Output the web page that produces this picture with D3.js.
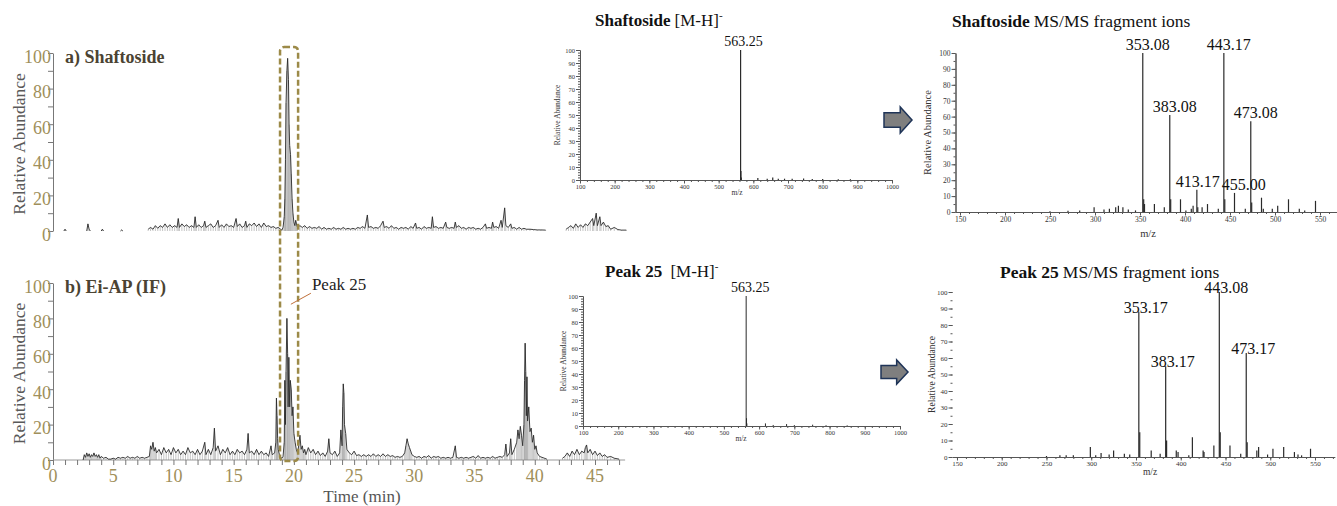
<!DOCTYPE html>
<html>
<head>
<meta charset="utf-8">
<script src="https://cdn.jsdelivr.net/npm/d3@7"></script>
<style>
  body { margin: 0; background: #fff; }
  svg text { font-family: "Liberation Serif", "Times New Roman", serif; }
</style>
</head>
<body>
<svg id="fig" width="1337" height="506"></svg>
<script>
// chromatogram a) Shaftoside standard: [time (min), relative abundance %], null = gap
const chromA = [
  [0.9,0],[1.0,1],[1.1,0],[1.2,null],
  [2.8,0],[2.9,4],[3.0,1],[3.1,0],[3.2,null],
  [4.0,0],[4.1,1],[4.2,0],[4.3,null],
  [5.6,0],[5.7,0.6],[5.8,0],[5.9,null],
  [7.9,1],[8.1,2],[8.3,1],[8.5,3],[8.7,1.5],[8.9,3],[9.1,2],[9.3,4],[9.5,2],[9.7,3.5],[9.9,2],[10.1,3],[10.3,2],[10.4,7],[10.5,2],
  [10.7,4],[10.9,2.5],[11.1,3.5],[11.3,2],[11.5,3],[11.7,2],[11.8,8],[11.9,2],[12.1,3.5],[12.3,2],[12.5,3],[12.6,5.5],[12.7,2],
  [12.9,3],[13.1,4],[13.3,2],[13.5,3],[13.7,6],[13.8,2],[14.0,3.5],[14.2,2],[14.4,4],[14.6,2.5],[14.8,3],[15.0,2],[15.2,7],[15.3,2.5],
  [15.5,4],[15.7,2],[15.9,3],[16.0,5.5],[16.1,2],[16.3,4],[16.5,3],[16.7,4.5],[16.9,2.5],[17.1,4],[17.3,2],[17.5,4.5],[17.7,2.5],
  [17.9,3],[18.1,2],[18.3,2.5],[18.5,1.5],[18.7,2],[18.9,1],[19.0,0.5],
  [19.1,2],[19.2,8],[19.25,18],[19.3,40],[19.35,72],[19.42,90],[19.48,97],[19.55,85],[19.6,60],[19.65,48],[19.72,43],[19.78,32],
  [19.85,18],[19.92,10],[20.0,5],[20.08,3],[20.15,6],[20.22,4],[20.3,2],
  [20.5,3],[20.7,2],[20.9,3],[21.1,1.5],[21.3,2.5],[21.5,1.5],[21.7,2],[21.9,1.5],[22.1,2.5],[22.3,1],[22.5,2],[22.7,1],[22.9,1.5],
  [23.1,1],[23.3,2],[23.5,1],[23.7,1.5],[23.9,1],[24.1,2],[24.3,1],[24.5,1.5],[24.7,1],[24.9,1.5],[25.1,1],[25.3,2],[25.5,1.5],
  [25.7,2.5],[25.9,1.5],[26.1,9],[26.2,2],[26.4,2.5],[26.6,1.5],[26.8,2],[27.0,1.5],[27.2,3],[27.4,5.5],[27.5,2],[27.7,2.5],[27.9,1.5],
  [28.1,3],[28.3,1.5],[28.5,2],[28.7,1],[28.9,2],[29.1,1.5],[29.3,2],[29.5,1],[29.7,2.5],[29.9,1.5],[30.1,4.5],[30.2,1.5],[30.4,2],
  [30.6,1],[30.8,2.5],[31.0,1.5],[31.2,2],[31.4,1.5],[31.5,8],[31.6,2],[31.8,2.5],[32.0,1.5],[32.2,2],[32.4,1.5],[32.6,5],[32.7,2],
  [32.9,1.5],[33.1,2],[33.3,1.5],[33.4,5],[33.5,2],[33.7,3],[33.9,1.5],[34.1,2],[34.3,1],[34.5,2],[34.7,1.5],[34.9,2],[35.1,1],
  [35.3,1.5],[35.5,1],[35.7,2],[35.9,4],[36.0,1.5],[36.2,2],[36.4,1.5],[36.5,5],[36.6,2],[36.8,2.5],[37.0,1.5],[37.2,6],[37.3,2],
  [37.5,13],[37.6,3],[37.8,2],[38.0,4],[38.1,1.5],[38.3,2],[38.5,1],[38.7,2],[38.9,1],[39.1,1.5],[39.3,1],[39.6,1],[39.9,0.8],
  [40.2,0.6],[40.5,0.6],[40.9,0.5],[41.0,null],
  [42.6,1],[42.8,2],[43.0,3],[43.2,1.5],[43.4,4],[43.6,2],[43.8,3.5],[44.0,2],[44.2,4],[44.4,3],[44.6,5],[44.8,7],[44.9,3],
  [45.1,10],[45.2,3],[45.4,8],[45.5,3],[45.7,5],[45.9,2.5],[46.1,3],[46.3,1],[46.6,2],[46.9,0.8],[47.2,0.5],[47.6,0.5]
];

// chromatogram b) Ei-AP (IF)
const chromB = [
  [2.5,0],[2.6,3],[2.7,1.5],[2.8,4],[2.9,2],[3.0,3.5],[3.1,1.5],[3.2,3],[3.3,2],[3.4,4],[3.5,2],[3.6,3],[3.7,1.5],[3.8,3],[3.9,1],
  [4.0,2],[4.2,1],[4.4,1.5],[4.6,0.5],[4.8,0.5],[5.0,1],[5.2,0.5],[5.4,1.5],[5.6,1],[5.8,1.5],[6.0,1],[6.2,2],[6.4,1],[6.6,1.5],
  [6.8,1],[7.0,2],[7.2,1],[7.4,1.5],[7.6,1],[7.8,1.5],[8.0,2],[8.1,8],[8.2,6],[8.3,10],[8.4,5],[8.5,7],[8.6,4],[8.8,6],[9.0,3],
  [9.2,7],[9.4,4],[9.6,6],[9.8,3],[10.0,7],[10.2,4],[10.4,6],[10.6,3],[10.8,5],[11.0,3],[11.2,7],[11.4,4],[11.6,5],[11.8,3],[12.0,6],
  [12.2,3],[12.4,5],[12.6,10],[12.7,3],[12.9,6],[13.1,3],[13.3,7],[13.4,18],[13.5,5],[13.7,8],[13.9,3],[14.1,6],[14.3,4],[14.5,7],
  [14.7,3],[14.9,5],[15.1,3],[15.3,6],[15.5,4],[15.7,5],[15.9,3],[16.1,6],[16.2,15],[16.3,4],[16.5,5],[16.7,3],[16.9,6],[17.1,3],
  [17.3,5],[17.5,3],[17.7,4],[17.9,2],[18.1,8],[18.2,3],[18.4,4],[18.5,10],[18.55,35],[18.6,25],[18.65,12],[18.7,6],[18.8,3],
  [18.9,1.5],[19.0,1],[19.1,2],[19.2,10],[19.25,45],[19.3,20],[19.35,50],[19.42,80],[19.48,60],[19.52,30],[19.58,58],[19.65,30],
  [19.7,45],[19.78,40],[19.85,25],[19.92,30],[20.0,15],[20.1,10],[20.2,6],[20.3,4],[20.4,8],[20.5,14],[20.6,6],[20.7,8],[20.8,4],
  [20.9,6],[21.0,3],[21.2,7],[21.4,4],[21.6,6],[21.8,3],[22.0,5],[22.2,2.5],[22.4,4],[22.6,2],[22.8,5],[22.9,12],[23.0,4],[23.2,3],
  [23.4,5],[23.6,2],[23.8,4],[23.9,17],[24.0,8],[24.05,30],[24.1,43],[24.15,38],[24.2,20],[24.3,15],[24.4,6],[24.6,4],[24.8,3],
  [25.0,5],[25.2,2.5],[25.4,3],[25.6,2],[25.8,3],[26.0,2],[26.2,3],[26.4,2],[26.6,3.5],[26.8,2],[27.0,3],[27.2,2],[27.4,3.5],
  [27.6,2],[27.8,3],[28.0,2],[28.2,2.5],[28.4,1.5],[28.6,2],[28.8,1.5],[29.0,2],[29.2,4],[29.3,8],[29.4,12],[29.5,9],[29.6,7],
  [29.7,5],[29.8,3],[30.0,2],[30.2,1.5],[30.4,2],[30.6,1],[30.8,2],[31.0,1.5],[31.2,2.5],[31.4,1],[31.6,2],[31.8,1.5],[32.0,2],
  [32.2,1],[32.4,1.5],[32.6,1],[32.8,1.5],[33.0,1],[33.2,1.5],[33.4,8],[33.5,1.5],[33.7,1],[33.9,1.5],[34.1,1],[34.3,1.5],[34.5,1],
  [34.7,1.5],[34.9,2],[35.1,1],[35.3,2.5],[35.5,1],[35.7,1.5],[35.9,1],[36.1,1.5],[36.3,1],[36.5,2],[36.7,1],[36.9,1.5],[37.1,2],
  [37.3,1.5],[37.5,3],[37.6,9],[37.7,2],[37.9,4],[38.0,12],[38.1,3],[38.3,6],[38.5,10],[38.6,17],[38.7,12],[38.8,19],[38.9,14],
  [39.0,8],[39.1,20],[39.15,45],[39.2,66],[39.25,50],[39.3,25],[39.35,47],[39.4,22],[39.5,30],[39.6,16],[39.7,18],[39.8,10],
  [39.9,14],[40.0,6],[40.1,8],[40.2,4],[40.4,2],[40.6,1.5],[40.8,1],[41.0,0.5],[41.1,null],
  [42.3,1],[42.5,2],[42.7,4],[42.9,2],[43.1,5],[43.3,3],[43.5,6],[43.7,3],[43.9,5],[44.1,4],[44.2,7],[44.3,8.5],[44.4,4],[44.6,6],
  [44.8,3],[45.0,5],[45.2,2.5],[45.4,4],[45.6,2],[45.8,3],[46.0,1.5],[46.3,2],[46.6,1],[47.0,0.5]
];

const timeLabels = [0, 5, 10, 15, 20, 25, 30, 35, 40, 45];
const timeMinor = d3.range(0, 48, 1);
const abundLabels = [0, 20, 40, 60, 80, 100];
const boxTimes = [18.85, 20.35];
const peak25Time = 19.75;

// full scan [M-H]- spectra: [m/z, %]
const msTopPeaks = [[563.25,100],[564.25,7],[565.2,2],[613,1.5],[640,1],[656,2],[672,1],[690,1],[712,1],[745,1.2],[770,0.8],[800,0.8],[845,0.6],[880,0.5]];
const msBotPeaks = [[563.25,100],[564.25,6],[565.2,2],[618,2],[640,0.8],[678,1.5],[700,0.7],[752,1],[790,0.6],[850,0.5]];
const msTicks = d3.range(100, 1001, 100);
const msLabeled = [563.25];

// MS/MS fragment spectra
const msmsTopPeaks = [
  [250,0.5],[270,0.8],[283,1],[299,3],[310,1.5],[316,2],[323,3],[326,4],[331,3],[337,1.5],[345,1],
  [353.08,100],[354.1,8],[355,5],[366,5],[377,3],[383.08,61],[384.1,8],[395,8],[401,1],[407,2],[409,4],
  [413.17,14],[414.2,3],[419,3],[425,5],[437,2],[443.17,100],[444.2,8],[455.00,12],[467,2],[473.08,57],
  [474.1,6],[485,9],[487,2],[497,2],[503,4],[515,8],[527,2],[533,1],[545,7]
];
const msmsTopLabeled = [353.08, 383.08, 413.17, 443.17, 455.00, 473.08];
const msmsBotPeaks = [
  [250,0.6],[265,1],[272,1],[280,1],[299,6],[305,1],[311,2.5],[320,1.5],[325,4],[337,2],[343,1.5],
  [353.17,88],[354.2,15],[367,4],[377,2],[383.17,55],[384.2,10],[395,4],[397,3],[409,1],[413,12],[425,4],
  [426,3],[437,7],[443.08,100],[444.1,15],[455,7],[467,2],[473.17,63],[474.2,9],[485,4],[487,6],[497,1.5],
  [503,5],[515,6],[527,3],[531,1.5],[535,1],[545,5]
];
const msmsBotLabeled = [353.17, 383.17, 443.08, 473.17];
const msmsTicks = d3.range(150, 551, 50);

const olive = '#a08f5a';
const svg = d3.select('#fig');

// ---------- chromatograms ----------
const xT = d3.scaleLinear().domain([0, 45]).range([53, 595]);
const yA = d3.scaleLinear().domain([0, 100]).range([231, 53]);
const yB = d3.scaleLinear().domain([0, 100]).range([460, 283]);

function chromPanel(data, y, title, showX) {
  const g = svg.append('g');
  const ax = g.append('g').attr('transform', `translate(${xT(0)},0)`)
    .call(d3.axisLeft(y).tickValues(d3.range(0, 101, 10)).tickSize(5).tickSizeOuter(0)
      .tickFormat(d => abundLabels.includes(d) ? d : ''));
  ax.select('.domain').attr('stroke', '#777');
  ax.selectAll('.tick line').attr('stroke', '#777');
  ax.selectAll('.tick text').attr('fill', olive).attr('font-size', 18).attr('x', -2).attr('dy', '0.5em');

  g.append('text')
    .attr('transform', `translate(19,${(y(0) + y(100)) / 2 + 2}) rotate(-90)`)
    .attr('text-anchor', 'middle').attr('dy', '0.35em')
    .style('font-size', '17.5px').attr('fill', '#595959')
    .text('Relative Abundance');

  g.append('text').attr('x', 65).attr('y', y(100) + 10)
    .style('font-size', '18px').style('font-weight', 'bold').attr('fill', '#4b4332')
    .text(title);

  if (showX) {
    const xa = g.append('g').attr('transform', `translate(0,${y(0)})`)
      .call(d3.axisBottom(xT).tickValues(timeMinor).tickSize(5).tickSizeOuter(0).tickFormat(''));
    xa.select('.domain').attr('stroke', '#999').attr('d', `M${xT(0)},0H${xT(47.5)}`);
    xa.selectAll('.tick line').attr('stroke', '#777');
    g.selectAll('text.tl').data(timeLabels).join('text')
      .attr('class', 'tl')
      .attr('x', d => xT(d)).attr('y', y(0) + 22)
      .attr('text-anchor', 'middle').style('font-size', '18px').attr('fill', olive)
      .text(d => d);
    g.append('text').attr('x', 362).attr('y', 502)
      .attr('text-anchor', 'middle').style('font-size', '17px').attr('fill', '#555')
      .text('Time (min)');
  }

  const pts = data.filter(d => d[1] !== null);
  // thin sticks under the trace give the dense, hairy look of the raw signal
  g.selectAll('line.st').data(pts).join('line')
    .attr('class', 'st')
    .attr('x1', d => xT(d[0])).attr('x2', d => xT(d[0]))
    .attr('y1', y(0)).attr('y2', d => y(d[1]))
    .attr('stroke', '#8a8a8a').attr('stroke-width', 0.5);

  const line = d3.line()
    .defined(d => d[1] !== null)
    .x(d => xT(d[0])).y(d => y(d[1]));
  g.append('path').datum(data)
    .attr('d', line).attr('fill', 'none')
    .attr('stroke', '#2a2a2a').attr('stroke-width', 0.9).attr('stroke-linejoin', 'round');
  return g;
}

chromPanel(chromA, yA, 'a) Shaftoside', false);
chromPanel(chromB, yB, 'b) Ei-AP (IF)', true);

// dashed highlight box spanning both chromatograms
const bx0 = xT(boxTimes[0]), bx1 = xT(boxTimes[1]);
const by0 = yA(100) - 6, by1 = yB(0) + 1;
svg.append('rect')
  .attr('x', bx0).attr('y', by0).attr('width', bx1 - bx0).attr('height', by1 - by0)
  .attr('rx', 4).attr('fill', 'none')
  .attr('stroke', '#9c8a48').attr('stroke-width', 2.5).attr('stroke-dasharray', '6,3');

// Peak 25 annotation
const lx = xT(peak25Time), ly = yB(88);
svg.append('line').attr('x1', lx).attr('y1', ly).attr('x2', lx + 20).attr('y2', ly - 11)
  .attr('stroke', '#c0703a').attr('stroke-width', 1);
svg.append('text').attr('x', lx + 21).attr('y', ly - 14)
  .style('font-size', '17px').attr('fill', '#222').text('Peak 25');

// ---------- spectra ----------
function spectrum(c) {
  const g = svg.append('g');
  const x = d3.scaleLinear().domain(c.xDomain).range(c.xRange);
  const y = d3.scaleLinear().domain([0, 100]).range(c.yRange);
  const x0 = x(c.xDomain[0]);

  const style = (sel) => {
    sel.attr('font-size', c.tickFont).attr('color', '#555');
    sel.selectAll('.tick text').attr('fill', '#333');
  };

  g.append('g').attr('transform', `translate(0,${y(0)})`)
    .call(d3.axisBottom(x).tickValues(c.xMinor).tickSize(2).tickSizeOuter(0).tickFormat(''))
    .call(style);
  g.append('g').attr('transform', `translate(0,${y(0)})`)
    .call(d3.axisBottom(x).tickValues(c.xTicks).tickSize(3.5).tickPadding(1).tickSizeOuter(0).tickFormat(d3.format('d')))
    .call(style);
  const ya = g.append('g').attr('transform', `translate(${x0},0)`)
    .call(d3.axisLeft(y).tickValues(c.yMinor).tickSize(2).tickSizeOuter(0).tickFormat(''))
    .call(style);
  if (!c.yLine) ya.select('.domain').remove();
  g.append('g').attr('transform', `translate(${x0},0)`)
    .call(d3.axisLeft(y).tickValues(d3.range(0, 101, 10)).tickSize(4).tickPadding(1).tickSizeOuter(0))
    .call(style)
    .call(s => { if (!c.yLine) s.select('.domain').remove(); });

  g.selectAll('line.pk').data(c.peaks).join('line')
    .attr('class', 'pk')
    .attr('x1', d => x(d[0])).attr('x2', d => x(d[0]))
    .attr('y1', y(0)).attr('y2', d => y(d[1]))
    .attr('stroke', '#2a2a2a').attr('stroke-width', c.peakWidth);

  const labels = g.selectAll('text.pl').data(c.peaks.filter(d => c.labeled.includes(d[0]))).join('text')
    .attr('class', 'pl')
    .attr('x', d => x(d[0]) + c.labelDx).attr('y', d => y(d[1]) + c.labelDy)
    .attr('text-anchor', 'middle').style('font-size', c.labelFont + 'px').attr('fill', '#111')
    .text(d => d[0].toFixed(2));

  // push apart labels that collide horizontally at similar heights
  const boxes = labels.nodes().map(n => ({ n, x: +n.getAttribute('x'), y: +n.getAttribute('y'), w: n.getComputedTextLength() }))
    .sort((a, b) => a.x - b.x);
  for (let i = 0; i < boxes.length; i++) {
    for (let j = i + 1; j < boxes.length; j++) {
      const a = boxes[i], b = boxes[j];
      const overlap = (a.x + a.w / 2) - (b.x - b.w / 2) + 2;
      if (overlap > 0 && Math.abs(a.y - b.y) < c.labelFont) {
        a.x -= overlap / 2; b.x += overlap / 2;
        a.n.setAttribute('x', a.x); b.n.setAttribute('x', b.x);
      }
    }
  }

  g.append('text')
    .attr('transform', `translate(${c.yLabelX},${(y(0) + y(100)) / 2}) rotate(-90)`)
    .attr('text-anchor', 'middle').attr('dy', '0.35em')
    .style('font-size', c.axisFont + 'px').attr('fill', '#333')
    .text('Relative Abundance');
  g.append('text')
    .attr('x', c.mzX).attr('y', y(0) + c.mzDy)
    .attr('text-anchor', 'middle').style('font-size', c.axisFont + 'px').attr('fill', '#333')
    .text('m/z');
}

spectrum({
  xDomain: [100, 1000], xRange: [580, 892], yRange: [180, 50],
  xTicks: msTicks, xMinor: d3.range(100, 1001, 20), yMinor: d3.range(0, 101, 2), yLine: true,
  peaks: msTopPeaks, labeled: msLabeled, peakWidth: 1.2,
  labelDx: 3, labelDy: -4, labelFont: 14, tickFont: 6.5, axisFont: 7.5,
  yLabelX: 557, mzX: 737, mzDy: 15
});
spectrum({
  xDomain: [100, 1000], xRange: [583, 900], yRange: [426, 296],
  xTicks: msTicks, xMinor: d3.range(100, 1001, 20), yMinor: d3.range(0, 101, 2), yLine: true,
  peaks: msBotPeaks, labeled: msLabeled, peakWidth: 1,
  labelDx: 4, labelDy: -4, labelFont: 14, tickFont: 6.5, axisFont: 7.5,
  yLabelX: 563, mzX: 741, mzDy: 15
});
spectrum({
  xDomain: [145, 573], xRange: [955.5, 1340.7], yRange: [212, 53],
  xTicks: msmsTicks, xMinor: d3.range(150, 571, 10), yMinor: d3.range(0, 101, 5), yLine: true,
  peaks: msmsTopPeaks, labeled: msmsTopLabeled, peakWidth: 1.2,
  labelDx: 5, labelDy: -3, labelFont: 16, tickFont: 7.5, axisFont: 10.5,
  yLabelX: 927, mzX: 1148, mzDy: 25
});
spectrum({
  xDomain: [145, 572], xRange: [952.5, 1334.7], yRange: [457, 292],
  xTicks: msmsTicks, xMinor: d3.range(150, 571, 10), yMinor: d3.range(0, 101, 5), yLine: false,
  peaks: msmsBotPeaks, labeled: msmsBotLabeled, peakWidth: 1.2,
  labelDx: 7, labelDy: 1, labelFont: 16, tickFont: 7, axisFont: 9.5,
  yLabelX: 932, mzX: 1150, mzDy: 18
});

// ---------- titles ----------
function title(x, y, bold, normal, sup, size) {
  const t = svg.append('text').attr('x', x).attr('y', y).style('font-size', size + 'px').attr('fill', '#111');
  t.append('tspan').style('font-weight', 'bold').text(bold);
  t.append('tspan').attr('dx', 4).text(normal);
  if (sup) t.append('tspan').attr('dy', -7).style('font-size', (size * 0.65) + 'px').text(sup);
}
title(595, 26, 'Shaftoside', '[M-H]', '-', 17);
title(605, 277, 'Peak 25', ' [M-H]', '-', 17);
title(952, 27, 'Shaftoside', 'MS/MS fragment ions', null, 17.5);
title(1000, 278, 'Peak 25', 'MS/MS fragment ions', null, 17.5);

// ---------- block arrows ----------
function arrow(x0, yc, w, h) {
  const shaftH = h * 0.55, headW = w * 0.42;
  const p = [
    [x0, yc - shaftH / 2], [x0 + w - headW, yc - shaftH / 2], [x0 + w - headW, yc - h / 2],
    [x0 + w, yc], [x0 + w - headW, yc + h / 2], [x0 + w - headW, yc + shaftH / 2], [x0, yc + shaftH / 2]
  ];
  svg.append('polygon').attr('points', p.map(q => q.join(',')).join(' '))
    .attr('fill', '#7f7f7f').attr('stroke', '#1f3458').attr('stroke-width', 1.5);
}
arrow(884, 120, 28, 26);
arrow(881, 372, 27, 24);
</script>
</body>
</html>
